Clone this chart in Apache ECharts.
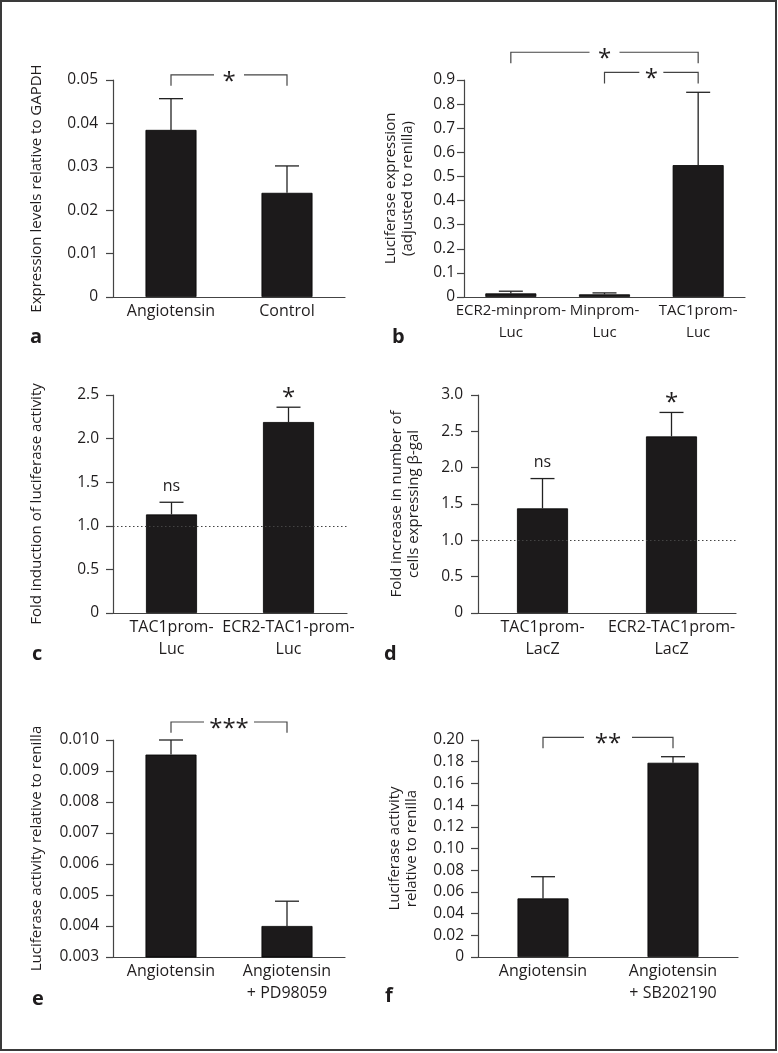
<!DOCTYPE html>
<html>
<head>
<meta charset="utf-8">
<script src="https://cdn.jsdelivr.net/npm/echarts@6/dist/echarts.min.js"></script>
<style>
  html, body { margin: 0; padding: 0; background: #fff; }
  #chart { width: 778px; height: 1053px; }
</style>
</head>
<body>
<div id="chart"></div>
<script>
// ---- data ----
// a
const catsA = ['Angiotensin', 'Control'];
const meanA = [0.0385, 0.024];
const semA = [0.0072, 0.0062];
const ticksA = ['0', '0.01', '0.02', '0.03', '0.04', '0.05'];
// b
const catsB = ['ECR2-minprom-\nLuc', 'Minprom-\nLuc', 'TAC1prom-\nLuc'];
const meanB = [0.015, 0.011, 0.547];
const semB = [0.009, 0.006, 0.302];
const ticksB = ['0', '0.1', '0.2', '0.3', '0.4', '0.5', '0.6', '0.7', '0.8', '0.9'];
// c
const catsC = ['TAC1prom-\nLuc', 'ECR2-TAC1-prom-\nLuc'];
const meanC = [1.13, 2.19];
const semC = [0.14, 0.17];
const marksC = ['ns', '*'];
const ticksC = ['0', '0.5', '1.0', '1.5', '2.0', '2.5'];
// d
const catsD = ['TAC1prom-\nLacZ', 'ECR2-TAC1prom-\nLacZ'];
const meanD = [1.44, 2.43];
const semD = [0.41, 0.33];
const marksD = ['ns', '*'];
const ticksD = ['0', '0.5', '1.0', '1.5', '2.0', '2.5', '3.0'];
// e
const catsE = ['Angiotensin', 'Angiotensin\n+ PD98059'];
const meanE = [0.00953, 0.0040];
const semE = [0.00047, 0.0008];
const ticksE = ['0.003', '0.004', '0.005', '0.006', '0.007', '0.008', '0.009', '0.010'];
// f
const catsF = ['Angiotensin', 'Angiotensin\n+ SB202190'];
const meanF = [0.054, 0.179];
const semF = [0.020, 0.0056];
const ticksF = ['0', '0.02', '0.04', '0.06', '0.08', '0.10', '0.12', '0.14', '0.16', '0.18', '0.20'];

const FONT = '"Open Sans", sans-serif';
const INK = '#1f1c1d';
const AXIS = '#444';

const panels = [
  { cats: catsA, mean: meanA, sem: semA, ticks: ticksA, min: 0, max: 0.05, step: 0.01,
    name: 'Expression levels relative to GAPDH', nameGap: 68, labelMargin: 15, catSize: 16,
    grid: { left: 113, top: 80, width: 232, height: 217 },
    letter: 'a', letterPos: [30, 337],
    brackets: [{ from: 0, to: 1, level: 0.0512, foot: 0.0487, text: '*', gap: 30 }] },
  { cats: catsB, mean: meanB, sem: semB, ticks: ticksB, min: 0, max: 0.9, step: 0.1,
    name: 'Luciferase expression\n(adjusted to renilla)', nameGap: 48, labelMargin: 9, catSize: 15,
    grid: { left: 464, top: 80, width: 281, height: 217 },
    letter: 'b', letterPos: [392, 337],
    brackets: [{ from: 0, to: 2, level: 1.015, foot: 0.969, text: '*', gap: 30 },
               { from: 1, to: 2, level: 0.932, foot: 0.886, text: '*', gap: 24 }] },
  { cats: catsC, mean: meanC, sem: semC, ticks: ticksC, min: 0, max: 2.5, step: 0.5,
    name: 'Fold induction of luciferase activity', nameGap: 68, labelMargin: 14, catSize: 16,
    grid: { left: 113, top: 395, width: 234, height: 218 },
    letter: 'c', letterPos: [32, 654], refLine: 1, marks: marksC },
  { cats: catsD, mean: meanD, sem: semD, ticks: ticksD, min: 0, max: 3, step: 0.5,
    name: 'Fold increase in number of\ncells expressing \u03b2-gal', nameGap: 56, labelMargin: 15, catSize: 16,
    grid: { left: 478, top: 395, width: 258, height: 218 },
    letter: 'd', letterPos: [384, 654], refLine: 1, marks: marksD },
  { cats: catsE, mean: meanE, sem: semE, ticks: ticksE, min: 0.003, max: 0.010, step: 0.001,
    name: 'Luciferase activity relative to renilla', nameGap: 68, labelMargin: 14, catSize: 16,
    grid: { left: 113, top: 740, width: 232, height: 217 },
    letter: 'e', letterPos: [32, 999],
    brackets: [{ from: 0, to: 1, level: 0.01058, foot: 0.01023, text: '***', gap: 50 }] },
  { cats: catsF, mean: meanF, sem: semF, ticks: ticksF, min: 0, max: 0.2, step: 0.02,
    name: 'Luciferase activity\nrelative to renilla', nameGap: 58, labelMargin: 14, catSize: 16,
    grid: { left: 478, top: 740, width: 260, height: 217 },
    letter: 'f', letterPos: [385, 996],
    brackets: [{ from: 0, to: 1, level: 0.2025, foot: 0.1924, text: '**', gap: 48 }] },
];

// upper whisker only, with a cap
function renderErr(params, api) {
  const base = api.coord([api.value(0), api.value(1)]);
  const top = api.coord([api.value(0), api.value(2)]);
  const w = 12;
  const st = { stroke: '#222', lineWidth: 1.3 };
  return {
    type: 'group',
    children: [
      { type: 'line', shape: { x1: base[0], y1: base[1], x2: top[0], y2: top[1] }, style: st },
      { type: 'line', shape: { x1: top[0] - w, y1: top[1], x2: top[0] + w, y2: top[1] }, style: st },
    ],
  };
}

const grids = [], xAxes = [], yAxes = [], series = [];
panels.forEach(function (p, i) {
  grids.push(Object.assign({ containLabel: false }, p.grid));
  xAxes.push({
    type: 'category', gridIndex: i, data: p.cats,
    axisTick: { show: false },
    axisLine: { lineStyle: { color: AXIS, width: 1.2 } },
    axisLabel: { color: INK, fontSize: p.catSize, fontFamily: FONT, lineHeight: 22, margin: 3, interval: 0 },
  });
  yAxes.push({
    type: 'value', gridIndex: i, min: p.min, max: p.max, interval: p.step,
    splitLine: { show: false },
    axisLine: { show: true, lineStyle: { color: AXIS, width: 1.2 } },
    axisTick: { show: true, length: 7, lineStyle: { color: AXIS, width: 1.2 } },
    axisLabel: {
      color: INK, fontSize: 15.5, fontFamily: FONT, margin: p.labelMargin,
      formatter: function (v) { return p.ticks[Math.round((v - p.min) / p.step)]; },
    },
    name: p.name, nameLocation: 'middle', nameGap: p.nameGap,
    nameTextStyle: { color: INK, fontSize: 15, fontFamily: FONT, lineHeight: 17 },
  });
  series.push({
    type: 'bar', xAxisIndex: i, yAxisIndex: i, data: p.mean, barWidth: 51, z: 2, silent: true,
    itemStyle: { color: '#1c1a1b', borderColor: '#000', borderWidth: 0.8 },
  });
  series.push({
    type: 'custom', xAxisIndex: i, yAxisIndex: i, z: 3, silent: true,
    renderItem: renderErr,
    encode: { x: 0, y: [1, 2] },
    data: p.mean.map(function (m, k) { return [k, m, m + p.sem[k]]; }),
  });
  if (p.refLine != null) {
    series.push({
      type: 'line', xAxisIndex: i, yAxisIndex: i, data: [], z: 1, silent: true,
      markLine: {
        silent: true, symbol: 'none', label: { show: false },
        lineStyle: { type: [1.5, 2.5], color: '#444', width: 1 },
        data: [{ yAxis: p.refLine }],
      },
    });
  }
});

const chart = echarts.init(document.getElementById('chart'));
chart.setOption({
  animation: false,
  backgroundColor: '#fff',
  textStyle: { fontFamily: FONT },
  grid: grids, xAxis: xAxes, yAxis: yAxes, series: series,
});

// annotations: brackets, significance marks, panel letters, frame
const graphics = [{
  type: 'rect', silent: true,
  shape: { x: 1, y: 1, width: 775, height: 1049 },
  style: { fill: 'none', stroke: '#3a3a3a', lineWidth: 2 },
}];

function starText(txt, x, y) {
  const isStar = txt.indexOf('*') >= 0;
  return {
    type: 'text', silent: true, x: x, y: isStar ? y + 7 : y,
    style: {
      text: txt, fill: INK, font: (isStar ? '24px ' : '16px ') + FONT,
      textAlign: 'center', textVerticalAlign: 'middle', align: 'center', verticalAlign: 'middle',
    },
  };
}

panels.forEach(function (p, i) {
  const finder = { gridIndex: i };
  (p.brackets || []).forEach(function (b) {
    const a = chart.convertToPixel(finder, [b.from, b.level]);
    const c = chart.convertToPixel(finder, [b.to, b.level]);
    const fa = chart.convertToPixel(finder, [b.from, b.foot]);
    const xm = (a[0] + c[0]) / 2;
    const st = { stroke: AXIS, lineWidth: 1.2, fill: 'none' };
    graphics.push({ type: 'polyline', silent: true, shape: { points: [[a[0], fa[1]], [a[0], a[1]], [xm - b.gap / 2, a[1]]] }, style: st });
    graphics.push({ type: 'polyline', silent: true, shape: { points: [[xm + b.gap / 2, c[1]], [c[0], c[1]], [c[0], fa[1]]] }, style: st });
    graphics.push(starText(b.text, xm, a[1]));
  });
  (p.marks || []).forEach(function (m, k) {
    const pt = chart.convertToPixel(finder, [k, p.mean[k] + p.sem[k]]);
    graphics.push(starText(m, pt[0], pt[1] - 16));
  });
  graphics.push({
    type: 'text', silent: true, x: p.letterPos[0], y: p.letterPos[1],
    style: { text: p.letter, fill: INK, font: 'bold 20px ' + FONT, textAlign: 'left', textVerticalAlign: 'middle', align: 'left', verticalAlign: 'middle' },
  });
});

chart.setOption({ graphic: graphics });
</script>
</body>
</html>
